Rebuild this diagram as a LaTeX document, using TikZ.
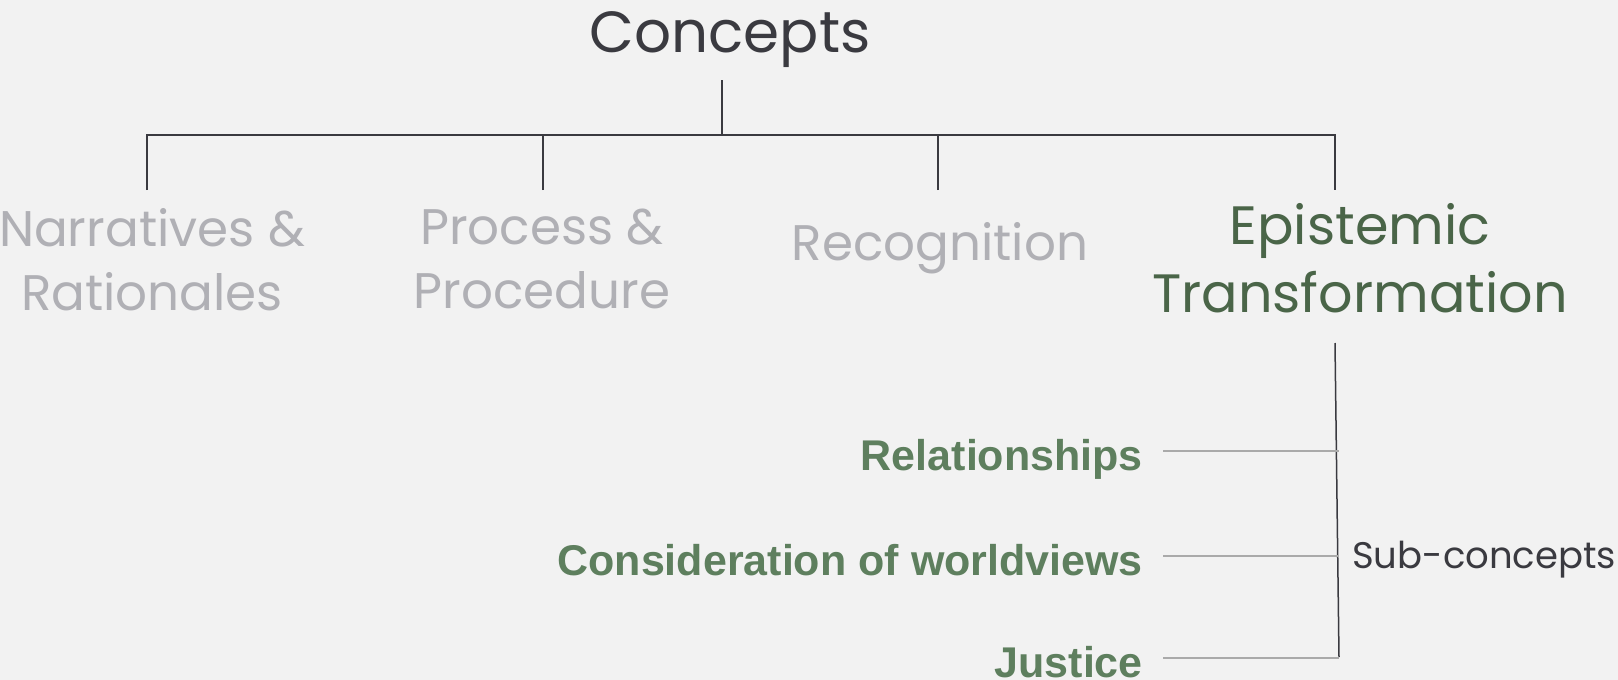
\documentclass[tikz,border=0pt]{standalone}
\usepackage{fontspec}
\usepackage{tikz}
\usetikzlibrary{calc,positioning}
\newfontfamily\headfont{Poppins}
\newfontfamily\subfont{Liberation Sans}
\definecolor{bggrey}{HTML}{F2F2F2}
\definecolor{darkline}{HTML}{3A3A40}
\definecolor{greytext}{HTML}{B0B0B5}
\definecolor{darkgreen}{HTML}{4A6548}
\definecolor{subgreen}{HTML}{5E7F5E}
\definecolor{subgrey}{HTML}{AAAAAA}

\begin{document}
\begin{tikzpicture}[x=1pt,y=-1pt]

\tikzset{tree/.style={draw=darkline,line width=1.5pt},
subline/.style={draw=subgrey,line width=2pt},
concept/.style={font=\headfont\fontsize{50}{64}\selectfont,text=greytext,align=center,inner sep=0pt},
subconcept/.style={font=\subfont\bfseries\fontsize{43}{48}\selectfont,text=subgreen,inner sep=0pt,anchor=base east}}

% Background
\fill[bggrey] (0,0) rectangle (1618,680);
\useasboundingbox (0,0) rectangle (1618,680);

% Title
\node[font=\headfont\fontsize{58}{64}\selectfont,text=darkline,inner sep=0pt,anchor=base] (concepts) at (730,52) {Concepts};

% Concept nodes (base = last line)
\node[concept,anchor=base] (narr) at (152,310) {Narratives \&\\Rationales};
\node[concept,anchor=base] (proc) at (542,308) {Process \&\\Procedure};
\node[concept,anchor=base] (recog) at (940,260) {Recognition};
\node[concept,anchor=base,text=darkgreen,font=\headfont\fontsize{54}{68}\selectfont] (epist) at (1360,312) {Epistemic\\Transformation};

% Tree edges
\coordinate (stem) at (722,80); \coordinate (hub) at (722,135);
\coordinate (d1) at (147,190); \coordinate (d2) at (543,190); \coordinate (d3) at (938,190); \coordinate (d4) at (1335,190);
\draw[tree] (stem) -- (hub);
\draw[tree] (d1) |- (hub) -| (d4);
\draw[tree] (d2) -- (d2 |- hub); \draw[tree] (d3) -- (d3 |- hub);

% Sub-concept nodes
\node[subconcept] (rel) at (1143,470) {Relationships};
\node[subconcept] (world) at (1143,575) {Consideration of worldviews};
\node[subconcept] (just) at (1143,677) {Justice};
\node[font=\headfont\fontsize{37}{44}\selectfont,text=darkline,inner sep=0pt,anchor=base west] (sublabel) at (1352,568) {Sub-concepts};

% Sub-concept edges
\coordinate (sTop) at (1335,343); \coordinate (sBot) at (1339,657);
\draw[tree] (sTop) -- (sBot);
\foreach \s in {rel,world,just}
  \draw[subline,shorten <=20pt] ([yshift=19pt]\s.base east) -- ([yshift=19pt]\s.base east -| sBot);

\end{tikzpicture}
\end{document}
